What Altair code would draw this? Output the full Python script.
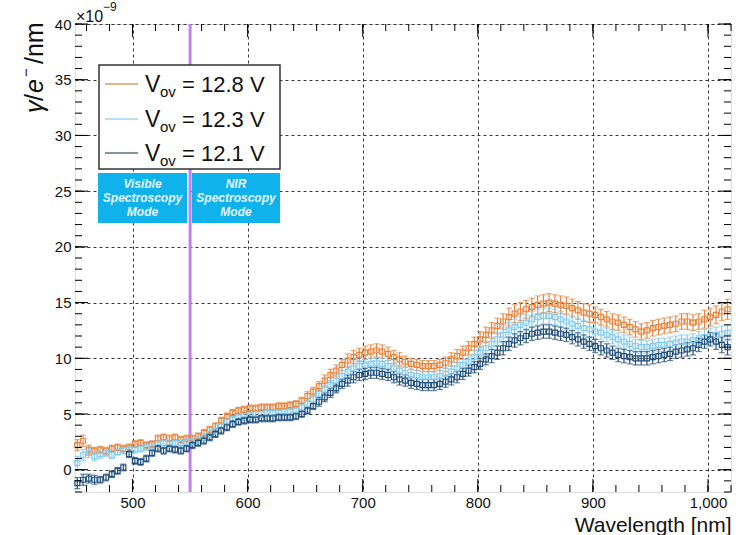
import altair as alt
import pandas as pd

# Wavelength grid of the measurement (nm)
wavelength = list(range(452, 1018, 5))

# Photons per electron per nm, in units of 1e-9, for each overvoltage
v128 = [
    2.2, 2.6, 1.8, 1.7, 1.8, 1.7, 1.9, 2.0, 1.9, 2.0,          # 452-497
    2.3, 2.4, 2.2, 2.3, 2.8, 2.9, 2.8, 2.9, 2.7, 2.8,          # 502-547
    2.8, 3.0, 3.3, 3.6, 3.9, 4.4, 4.8, 5.1, 5.3, 5.4,          # 552-597
    5.5, 5.5, 5.6, 5.6, 5.6, 5.7, 5.7, 5.8, 5.9, 6.2,          # 602-647
    6.6, 7.0, 7.5, 8.0, 8.5, 8.9, 9.4, 9.8, 10.1, 10.3,        # 652-697
    10.5, 10.6, 10.7, 10.6, 10.4, 10.1, 9.9, 9.7, 9.5, 9.4,    # 702-747
    9.3, 9.3, 9.3, 9.4, 9.6, 9.9, 10.2, 10.5, 10.9, 11.3,      # 752-797
    11.7, 12.1, 12.5, 12.9, 13.3, 13.7, 14.0, 14.2, 14.4, 14.6,  # 802-847
    14.8, 14.9, 15.0, 14.9, 14.8, 14.7, 14.5, 14.3, 14.1, 14.0,  # 852-897
    13.9, 13.7, 13.5, 13.3, 13.2, 13.0, 12.8, 12.6, 12.4, 12.5,  # 902-947
    12.7, 12.8, 12.9, 13.0, 13.1, 13.3, 13.3, 13.2, 13.3, 13.5,  # 952-997
    13.7, 13.9, 14.2, 14.4,                                    # 1002-1017
]
v123 = [
    0.6, 1.3, 1.5, 1.2, 1.4, 1.5, 1.3, 1.6, 1.7, 1.8,
    1.8, 1.9, 2.0, 2.1, 2.3, 2.4, 2.3, 2.4, 2.4, 2.5,
    2.5, 2.7, 2.9, 3.2, 3.5, 3.9, 4.3, 4.5, 4.7, 4.8,
    4.9, 5.0, 5.0, 5.1, 5.1, 5.1, 5.2, 5.2, 5.3, 5.6,
    5.9, 6.3, 6.8, 7.2, 7.6, 8.0, 8.4, 8.8, 9.1, 9.3,
    9.4, 9.5, 9.6, 9.5, 9.3, 9.1, 8.9, 8.7, 8.5, 8.4,
    8.3, 8.3, 8.3, 8.4, 8.6, 8.8, 9.1, 9.4, 9.7, 10.1,
    10.5, 10.9, 11.3, 11.7, 12.1, 12.5, 12.8, 13.0, 13.2, 13.5,
    13.7, 13.8, 13.8, 13.7, 13.5, 13.3, 13.1, 12.9, 12.7, 12.6,
    12.4, 12.3, 12.1, 11.9, 11.7, 11.5, 11.3, 11.1, 11.0, 11.0,
    11.1, 11.2, 11.2, 11.3, 11.4, 11.5, 11.5, 11.6, 11.8, 11.9,
    12.0, 12.1, 12.2, 12.3,
]
v121 = [
    -1.2, -0.9, -0.8, -0.9, -0.9, -0.7, -0.4, -0.1, 0.2, 1.4,
    0.8, 0.7, 1.0, 1.5, 1.9, 1.7, 1.9, 1.8, 1.7, 1.9,
    2.2, 2.4, 2.6, 2.9, 3.2, 3.5, 3.8, 4.1, 4.3, 4.4,
    4.5, 4.5, 4.6, 4.6, 4.6, 4.7, 4.7, 4.7, 4.8, 5.0,
    5.3, 5.7, 6.1, 6.5, 6.9, 7.3, 7.7, 8.0, 8.3, 8.5,
    8.6, 8.7, 8.7, 8.6, 8.5, 8.3, 8.1, 8.0, 7.8, 7.7,
    7.6, 7.6, 7.6, 7.7, 7.9, 8.1, 8.3, 8.6, 8.9, 9.2,
    9.5, 9.9, 10.2, 10.5, 10.9, 11.3, 11.6, 11.8, 12.0, 12.2,
    12.3, 12.4, 12.4, 12.3, 12.2, 12.1, 11.9, 11.7, 11.5, 11.3,
    11.1, 10.9, 10.7, 10.5, 10.3, 10.2, 10.1, 10.0, 10.0, 10.0,
    10.1, 10.2, 10.3, 10.4, 10.6, 10.7, 10.8, 10.9, 11.2, 11.5,
    11.7, 11.5, 11.2, 11.0,
]

# Statistical uncertainties (same units)
e128 = [
    0.5, 0.5, 0.4, 0.3, 0.3, 0.3, 0.3, 0.3, 0.3, 0.3,
    0.3, 0.3, 0.3, 0.3, 0.3, 0.3, 0.3, 0.3, 0.3, 0.3,
    0.3, 0.3, 0.3, 0.3, 0.3, 0.3, 0.3, 0.3, 0.3, 0.3,
    0.3, 0.3, 0.3, 0.3, 0.3, 0.3, 0.3, 0.3, 0.3, 0.3,
    0.4, 0.4, 0.4, 0.5, 0.5, 0.5, 0.5, 0.6, 0.6, 0.6,
    0.6, 0.6, 0.6, 0.6, 0.6, 0.6, 0.6, 0.5, 0.5, 0.5,
    0.5, 0.5, 0.5, 0.5, 0.5, 0.6, 0.6, 0.6, 0.6, 0.6,
    0.7, 0.7, 0.7, 0.7, 0.7, 0.8, 0.8, 0.8, 0.8, 0.8,
    0.8, 0.8, 0.8, 0.8, 0.8, 0.8, 0.8, 0.8, 0.8, 0.8,
    0.7, 0.7, 0.7, 0.7, 0.7, 0.7, 0.7, 0.7, 0.7, 0.7,
    0.7, 0.7, 0.7, 0.7, 0.7, 0.7, 0.7, 0.7, 0.7, 0.8,
    0.8, 0.8, 0.8, 0.9,
]
e123 = [
    0.6, 0.5, 0.4, 0.4, 0.4, 0.3, 0.3, 0.3, 0.3, 0.3,
    0.3, 0.3, 0.3, 0.3, 0.3, 0.3, 0.3, 0.3, 0.3, 0.3,
    0.3, 0.3, 0.3, 0.3, 0.3, 0.3, 0.3, 0.3, 0.3, 0.3,
    0.3, 0.3, 0.3, 0.3, 0.3, 0.3, 0.3, 0.3, 0.3, 0.3,
    0.3, 0.4, 0.4, 0.4, 0.4, 0.5, 0.5, 0.5, 0.5, 0.5,
    0.5, 0.5, 0.5, 0.5, 0.5, 0.5, 0.5, 0.5, 0.5, 0.5,
    0.5, 0.5, 0.5, 0.5, 0.5, 0.5, 0.5, 0.5, 0.5, 0.6,
    0.6, 0.6, 0.6, 0.6, 0.7, 0.7, 0.7, 0.7, 0.7, 0.7,
    0.7, 0.7, 0.7, 0.7, 0.7, 0.7, 0.7, 0.7, 0.7, 0.7,
    0.7, 0.6, 0.6, 0.6, 0.6, 0.6, 0.6, 0.6, 0.6, 0.6,
    0.6, 0.6, 0.6, 0.6, 0.6, 0.6, 0.6, 0.6, 0.6, 0.7,
    0.7, 0.7, 0.7, 0.7,
]
e121 = [
    0.5, 0.5, 0.4, 0.4, 0.3, 0.3, 0.3, 0.3, 0.3, 0.3,
    0.3, 0.3, 0.3, 0.3, 0.3, 0.3, 0.3, 0.3, 0.3, 0.3,
    0.3, 0.3, 0.3, 0.3, 0.3, 0.3, 0.3, 0.3, 0.3, 0.3,
    0.3, 0.3, 0.3, 0.3, 0.3, 0.3, 0.3, 0.3, 0.3, 0.3,
    0.3, 0.3, 0.4, 0.4, 0.4, 0.4, 0.4, 0.5, 0.5, 0.5,
    0.5, 0.5, 0.5, 0.5, 0.5, 0.5, 0.5, 0.5, 0.5, 0.5,
    0.5, 0.5, 0.5, 0.5, 0.5, 0.5, 0.5, 0.5, 0.5, 0.5,
    0.5, 0.5, 0.6, 0.6, 0.6, 0.6, 0.6, 0.6, 0.6, 0.6,
    0.6, 0.6, 0.6, 0.6, 0.6, 0.6, 0.6, 0.6, 0.6, 0.6,
    0.6, 0.6, 0.6, 0.6, 0.6, 0.6, 0.6, 0.6, 0.6, 0.6,
    0.6, 0.6, 0.6, 0.6, 0.6, 0.6, 0.6, 0.6, 0.6, 0.6,
    0.6, 0.7, 0.7, 0.7,
]

series_labels = ["12.8 V", "12.3 V", "12.1 V"]
series_colors = ["#e8843c", "#86cbee", "#22507c"]
legend_line_colors = ["#e29a62", "#9fd6f0", "#5a6f82"]

# Axis ticks
x_major = [500, 600, 700, 800, 900, 1000]
x_minor = list(range(460, 1021, 20))
y_major = [0, 5, 10, 15, 20, 25, 30, 35, 40]
y_minor = list(range(-2, 41))

mode_split = [550]

W, H = 656, 468
FONT = "Liberation Sans"

rows = []
for lab, vals, errs in zip(series_labels, [v128, v123, v121], [e128, e123, e121]):
    for wl, v, e in zip(wavelength, vals, errs):
        rows.append({"wl": wl, "val": v, "lo": v - e, "hi": v + e, "series": lab})
df = pd.DataFrame(rows)

xscale = alt.Scale(domain=[450, 1020], nice=False, zero=False)
yscale = alt.Scale(domain=[-2, 40], nice=False, zero=False)
cscale = alt.Scale(domain=series_labels, range=series_colors)

x_axis = alt.Axis(
    values=x_major, ticks=False, domain=False, grid=True,
    gridColor="#222", gridDash=[3, 3], gridWidth=1, gridOpacity=0.9,
    labelFontSize=15, labelPadding=3, labelColor="#111", labelFont=FONT,
    title="Wavelength [nm]", titleFontSize=21, titleFont=FONT, titleFontWeight="normal",
    titleColor="#111", titleX=W, titleY=39, titleAlign="right", titleBaseline="alphabetic",
)
y_axis = alt.Axis(
    values=y_major, ticks=False, domain=False, grid=True,
    gridColor="#222", gridDash=[3, 3], gridWidth=1, gridOpacity=0.9,
    labelFontSize=15, labelPadding=4, labelColor="#111", labelFont=FONT,
    title="",
)


def X(field):
    return alt.X(field, scale=xscale, axis=x_axis)


def Y(field):
    return alt.Y(field, scale=yscale, axis=y_axis)


color = alt.Color("series:N", scale=cscale, legend=None)
base = alt.Chart(df)

# Mode boundary
split = alt.Chart(pd.DataFrame({"wl": mode_split})).mark_rule(
    color="#c47fe9", strokeWidth=3
).encode(x=X("wl:Q"))

err_rules = base.mark_rule(strokeWidth=1.2).encode(
    x=X("wl:Q"), y=Y("lo:Q"), y2="hi:Q", color=color)
caps_lo = base.mark_tick(orient="horizontal", size=6, thickness=1.2).encode(
    x=X("wl:Q"), y=Y("lo:Q"), color=color)
caps_hi = base.mark_tick(orient="horizontal", size=6, thickness=1.2).encode(
    x=X("wl:Q"), y=Y("hi:Q"), color=color)
points = base.mark_point(shape="square", filled=False, size=25, strokeWidth=1.2, opacity=1).encode(
    x=X("wl:Q"), y=Y("val:Q"), color=color)


# Inward-pointing ticks on all four sides of the frame
def xticks(vals, length):
    d = alt.Chart(pd.DataFrame({"wl": vals}))
    bottom = d.mark_rule(color="black", strokeWidth=1).encode(
        x=X("wl:Q"), y=alt.value(H), y2=alt.value(H - length))
    top = d.mark_rule(color="black", strokeWidth=1).encode(
        x=X("wl:Q"), y=alt.value(0), y2=alt.value(length))
    return [bottom, top]


def yticks(vals, length):
    d = alt.Chart(pd.DataFrame({"val": vals}))
    left = d.mark_rule(color="black", strokeWidth=1).encode(
        y=Y("val:Q"), x=alt.value(0), x2=alt.value(length))
    right = d.mark_rule(color="black", strokeWidth=1).encode(
        y=Y("val:Q"), x=alt.value(W), x2=alt.value(W - length))
    return [left, right]


tick_layers = xticks(x_minor, 7) + xticks(x_major, 13) + yticks(y_minor, 7) + yticks(y_major, 13)

one = alt.Chart(pd.DataFrame({"k": [0]}))

# Legend box
legend_box = one.mark_rect(fill="white", stroke="#333", strokeWidth=1.5).encode(
    x=alt.value(24), x2=alt.value(205), y=alt.value(41), y2=alt.value(145))

legend_layers = [legend_box]
row_base = [68, 103, 137]
for lab, col, yb in zip(series_labels, legend_line_colors, row_base):
    legend_layers.append(one.mark_rule(color=col, strokeWidth=1.5).encode(
        x=alt.value(30), x2=alt.value(63), y=alt.value(yb - 8)))
    legend_layers.append(one.mark_text(
        text="V", align="left", baseline="alphabetic", fontSize=23, font=FONT, color="#111"
    ).encode(x=alt.value(70), y=alt.value(yb)))
    legend_layers.append(one.mark_text(
        text="ov", align="left", baseline="alphabetic", fontSize=15, font=FONT, color="#111"
    ).encode(x=alt.value(85), y=alt.value(yb + 5)))
    legend_layers.append(one.mark_text(
        text="= " + lab, align="left", baseline="alphabetic", fontSize=22, font=FONT, color="#111"
    ).encode(x=alt.value(107), y=alt.value(yb)))

# Mode labels
mode_layers = []
for x0, x1, first in [(23, 112, "Visible"), (117, 205, "NIR")]:
    mode_layers.append(one.mark_rect(fill="#10b2ec").encode(
        x=alt.value(x0), x2=alt.value(x1), y=alt.value(149), y2=alt.value(199)))
    for txt, yy in zip([first, "Spectroscopy", "Mode"], [160, 174, 188]):
        mode_layers.append(one.mark_text(
            text=txt, align="center", baseline="middle", fontSize=12, font=FONT,
            fontStyle="italic", fontWeight="bold", color="#e4f5fc"
        ).encode(x=alt.value((x0 + x1) / 2), y=alt.value(yy)))

# Axis exponent
exp_layers = [
    one.mark_text(text="×10", align="left", baseline="alphabetic", fontSize=16,
                  font=FONT, color="#111").encode(x=alt.value(1), y=alt.value(-2)),
    one.mark_text(text="−9", align="left", baseline="alphabetic", fontSize=12,
                  font=FONT, color="#111").encode(x=alt.value(28), y=alt.value(-13)),
]

# Rotated y-axis title, built piecewise so that gamma and e are italic
ytitle_pieces = [
    # text, y start (text reads upward from here), x baseline, size, style
    ("γ", 89, -32, 25, "italic"),
    ("/", 77, -32, 25, "normal"),
    ("e", 69, -32, 25, "italic"),
    ("−", 53, -44, 15, "normal"),
    ("/nm", 40, -32, 25, "normal"),
]
ytitle_layers = [
    one.mark_text(text=t, angle=270, align="left", baseline="alphabetic", fontSize=s,
                  fontStyle=st, font=FONT, color="#111").encode(
        x=alt.value(xb), y=alt.value(ys))
    for t, ys, xb, s, st in ytitle_pieces
]

chart = alt.layer(
    split, err_rules, caps_lo, caps_hi, points,
    *tick_layers, *legend_layers, *mode_layers, *exp_layers, *ytitle_layers
).properties(
    width=W, height=H,
    autosize=alt.AutoSizeParams(type="none"),
    padding={"left": 75, "top": 24, "right": 22, "bottom": 43},
).configure_view(
    stroke="black", strokeWidth=1
).configure(background="white")

chart.save("out.html", embed_options={"renderer": "svg", "actions": False})
